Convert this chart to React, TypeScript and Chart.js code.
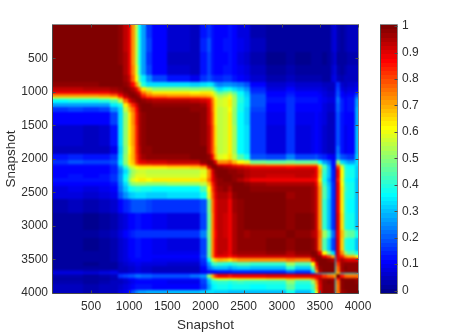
import React, { useEffect, useRef } from "react";
import { Chart, registerables } from "chart.js";

Chart.register(...registerables);

const bandEdges = [0,200,400,600,750,850,920,980,1030,1075,1110,1160,1220,1300,1500,1800,1930,2020,2070,2110,2150,2230,2290,2350,2410,2500,2590,2800,3060,3180,3380,3440,3480,3530,3590,3650,3695,3715,3770,3810,3860,3960,4000];
const axisTicks = [500,1000,1500,2000,2500,3000,3500,4000];
const colorTicks = [0,0.1,0.2,0.3,0.4,0.5,0.6,0.7,0.8,0.9,1];

// upper triangle of the symmetric similarity table, in percent
const upper: number[][] = [
[99,99,99,99,99,98,93,88,72,55,37,27,17,11,7,6,14,17,13,11,11,12,13,11,9,8,4,2,3,2,3,3,3,2,2,7,12,4,3,4,5,5],
[99,99,99,99,98,93,88,72,55,38,28,18,12,7,5,15,19,14,12,12,13,14,12,10,8,5,2,3,2,2,3,3,2,2,7,12,4,3,4,5,5],
[99,99,99,98,94,88,73,56,38,27,17,11,6,5,14,18,13,11,11,12,13,11,9,7,4,1,2,1,2,2,2,1,2,6,11,3,2,3,4,4],
[99,99,99,94,89,74,58,40,28,18,12,7,5,14,18,14,12,12,13,14,12,10,8,5,3,4,3,3,3,3,2,2,7,13,4,3,4,5,5],
[99,99,96,91,78,62,45,35,26,18,13,10,16,20,17,15,15,16,17,14,12,10,7,4,6,4,4,4,4,3,3,8,14,5,4,5,6,6],
[99,98,95,87,72,55,40,34,33,33,32,33,35,33,28,24,25,26,24,22,20,12,7,9,7,7,7,7,6,5,5,10,16,7,6,7,8],
[99,98,95,88,76,64,55,50,50,49,50,50,47,40,34,36,38,34,30,26,15,9,11,9,9,9,9,7,6,6,11,18,9,7,8,10],
[99,98,95,88,74,68,64,63,62,64,63,60,52,45,47,50,44,36,30,17,11,13,11,11,11,10,8,7,7,12,20,11,9,10,14],
[99,98,95,84,76,72,71,70,70,68,65,57,52,54,58,50,38,32,19,12,15,12,12,12,11,9,7,7,13,20,12,10,12,20],
[99,98,92,87,85,84,83,82,80,72,62,56,58,62,52,40,34,20,13,17,13,13,13,12,10,8,8,14,22,14,11,13,24],
[99,98,96,94,94,93,92,88,76,64,57,59,63,53,40,34,20,13,17,13,13,13,12,10,8,8,14,22,15,12,14,27],
[99,99,98,98,97,96,90,78,64,57,58,63,52,39,33,19,12,17,12,12,12,11,9,7,7,13,21,15,12,14,28],
[99,99,99,98,97,91,78,64,56,57,62,51,38,32,18,11,16,11,11,12,11,9,7,7,13,21,15,12,13,29],
[99,99,99,98,92,79,64,56,57,63,51,37,32,17,10,16,10,10,11,10,8,6,6,12,20,14,11,12,29],
[99,99,98,93,80,65,56,57,64,52,37,33,16,9,17,9,10,12,10,7,5,5,11,20,14,10,11,30],
[99,99,93,80,66,56,57,64,52,37,34,16,9,17,9,10,12,10,7,5,5,11,22,14,10,11,31],
[99,97,88,70,58,60,65,56,45,38,20,18,24,18,18,19,17,15,12,10,12,26,20,18,17,32],
[99,98,90,72,72,76,68,62,58,48,46,48,46,46,46,36,28,22,14,11,50,34,30,27,34],
[99,98,90,88,88,84,80,78,74,72,72,72,72,72,55,40,28,14,10,70,50,38,35,33],
[99,98,96,94,93,92,90,89,88,87,88,88,86,66,44,30,14,8,82,58,40,36,32],
[99,99,97,97,96,94,93,93,93,93,93,89,70,42,30,15,6,88,62,42,38,32],
[99,99,98,97,95,93,92,92,93,92,89,68,40,30,15,6,88,62,42,38,32],
[99,98,95,92,89,89,89,89,88,85,65,38,28,15,6,85,60,40,36,30],
[99,99,97,96,95,95,95,94,89,70,42,30,16,6,88,62,42,38,30],
[99,99,98,98,97,97,96,91,72,44,32,17,7,88,64,43,39,30],
[99,99,99,96,98,96,91,72,44,32,17,7,88,64,42,38,30],
[99,99,97,98,96,91,72,42,30,16,6,89,64,41,37,30],
[99,98,99,97,92,72,42,30,16,6,90,65,42,38,31],
[99,98,95,91,76,52,42,22,8,88,68,50,46,38],
[99,98,93,74,44,32,18,8,90,66,42,38,31],
[99,98,88,62,48,34,12,90,72,52,45,38],
[99,97,88,80,70,20,90,84,72,68,60],
[99,99,97,94,30,90,94,92,90,90],
[99,99,99,34,82,96,98,97,97],
[99,99,35,78,96,99,98,98],
[99,38,76,95,98,98,98],
[99,60,34,36,36,34],
[99,85,78,76,75],
[99,98,97,96],
[99,99,98],
[99,99],
[99],
];

const colorLevels = 64;

function jet(v: number): string {
  const i = Math.max(0, Math.min(colorLevels - 1, Math.floor(v * colorLevels)));
  const t = (i + 1) / colorLevels;
  const c = (a: number) => Math.round(255 * Math.max(0, Math.min(1, a)));
  return `rgb(${c(Math.min(4 * t - 1.5, -4 * t + 4.5))},${c(Math.min(4 * t - 0.5, -4 * t + 3.5))},${c(Math.min(4 * t + 0.5, -4 * t + 2.5))})`;
}

type Cell = { x: number; y: number; x0: number; x1: number; y0: number; y1: number; v: number };

const heatCells: Cell[] = [];
for (let r = 0; r < upper.length; r++) {
  for (let c = 0; c < upper.length; c++) {
    const a = Math.min(r, c);
    const b = Math.max(r, c);
    heatCells.push({
      x: (bandEdges[c] + bandEdges[c + 1]) / 2,
      y: (bandEdges[r] + bandEdges[r + 1]) / 2,
      x0: bandEdges[c], x1: bandEdges[c + 1],
      y0: bandEdges[r], y1: bandEdges[r + 1],
      v: upper[a][b - a] / 100,
    });
  }
}

const barMin = -0.009;
const barMax = 1.004;
const barCells: Cell[] = [];
for (let k = 0; k < colorLevels; k++) {
  const y0 = barMin + ((barMax - barMin) * k) / colorLevels;
  const y1 = barMin + ((barMax - barMin) * (k + 1)) / colorLevels;
  barCells.push({ x: 0.5, y: (y0 + y1) / 2, x0: 0, x1: 1, y0, y1, v: (k + 0.5) / colorLevels });
}

const cellPlugin = {
  id: "cells",
  beforeDatasetsDraw(chart: any, _a: any, opts: any) {
    const { ctx, chartArea: ca, scales } = chart;
    const w = Math.ceil(ca.right - ca.left);
    const h = Math.ceil(ca.bottom - ca.top);
    const off = document.createElement("canvas");
    off.width = w;
    off.height = h;
    const o = off.getContext("2d")!;
    for (const cell of chart.data.datasets[0].data as Cell[]) {
      const xa = Math.round(scales.x.getPixelForValue(cell.x0) - ca.left);
      const xb = Math.round(scales.x.getPixelForValue(cell.x1) - ca.left);
      const ya = Math.round(scales.y.getPixelForValue(cell.y0) - ca.top);
      const yb = Math.round(scales.y.getPixelForValue(cell.y1) - ca.top);
      o.fillStyle = jet(cell.v);
      o.fillRect(Math.min(xa, xb), Math.min(ya, yb), Math.abs(xb - xa), Math.abs(yb - ya));
    }
    ctx.save();
    ctx.beginPath();
    ctx.rect(ca.left, ca.top, w, h);
    ctx.clip();
    ctx.drawImage(off, ca.left, ca.top);
    if (opts.blur) {
      ctx.filter = `blur(${opts.blur}px)`;
      ctx.drawImage(off, ca.left, ca.top);
      ctx.filter = "none";
    }
    ctx.restore();
  },
};

const framePlugin = {
  id: "frame",
  afterDatasetsDraw(chart: any, _a: any, opts: any) {
    const { ctx, chartArea: ca, scales } = chart;
    ctx.save();
    ctx.lineWidth = 1;
    const L = Math.round(ca.left) - 0.5;
    const R = Math.round(ca.right) + 0.5;
    const T = Math.round(ca.top) - 0.5;
    const B = Math.round(ca.bottom) + 0.5;
    ctx.strokeStyle = "#8a8a8a";
    ctx.beginPath();
    ctx.moveTo(L, T); ctx.lineTo(R, T); ctx.lineTo(R, B);
    ctx.stroke();
    ctx.strokeStyle = "#4a4a4a";
    ctx.beginPath();
    ctx.moveTo(L, T); ctx.lineTo(L, B); ctx.lineTo(R, B);
    ctx.stroke();
    const len = 3;
    ctx.beginPath();
    if (opts.xTicks) {
      for (const t of scales.x.ticks) {
        const p = Math.round(scales.x.getPixelForValue(t.value)) + 0.5;
        ctx.moveTo(p, B); ctx.lineTo(p, B - len);
        ctx.moveTo(p, T); ctx.lineTo(p, T + len);
      }
    }
    for (const t of scales.y.ticks) {
      const p = Math.round(scales.y.getPixelForValue(t.value)) + 0.5;
      if (opts.xTicks) {
        ctx.moveTo(L, p); ctx.lineTo(L + len, p);
      }
      ctx.moveTo(R, p); ctx.lineTo(R - len, p);
    }
    ctx.stroke();
    ctx.restore();
  },
};

const textColor = "#2e2e2e";
const tickFont = { family: "'Liberation Sans', Arial, sans-serif", size: 12 };
const titleFont = { family: "'Liberation Sans', Arial, sans-serif", size: 13.5 };

const W = 457;
const H = 333;

export default function App() {
  const mainRef = useRef<HTMLCanvasElement>(null);
  const barRef = useRef<HTMLCanvasElement>(null);

  useEffect(() => {
    const main = new Chart(mainRef.current!, {
      type: "scatter",
      data: { datasets: [{ data: heatCells as any, pointRadius: 0, pointHoverRadius: 0 }] },
      plugins: [cellPlugin, framePlugin],
      options: {
        responsive: false,
        animation: false,
        layout: { padding: { left: 0, top: 25, right: W - 358, bottom: 0 } },
        plugins: {
          legend: { display: false },
          tooltip: { enabled: false },
          cells: { blur: 1.3 },
          frame: { xTicks: true },
        } as any,
        scales: {
          x: {
            type: "linear",
            min: 1,
            max: 4000,
            afterBuildTicks: (s: any) => { s.ticks = axisTicks.map((value) => ({ value })); },
            afterFit: (s: any) => { s.height = H - 293; },
            grid: { display: false, drawTicks: false },
            border: { display: false },
            ticks: { color: textColor, font: tickFont, padding: 6, autoSkip: false, maxRotation: 0, callback: (v: any) => String(v) },
            title: { display: true, text: "Snapshot", color: textColor, font: titleFont, padding: { top: 3, bottom: 0 } },
          },
          y: {
            type: "linear",
            reverse: true,
            min: 1,
            max: 4000,
            afterBuildTicks: (s: any) => { s.ticks = axisTicks.map((value) => ({ value })); },
            afterFit: (s: any) => { s.width = 53; },
            grid: { display: false, drawTicks: false },
            border: { display: false },
            ticks: { color: textColor, font: tickFont, padding: 5, autoSkip: false, callback: (v: any) => String(v) },
            title: { display: true, text: "Snapshot", color: textColor, font: titleFont, padding: { top: 3, bottom: 2 } },
          },
        },
      },
    });
    const bar = new Chart(barRef.current!, {
      type: "scatter",
      data: { datasets: [{ data: barCells as any, pointRadius: 0, pointHoverRadius: 0 }] },
      plugins: [cellPlugin, framePlugin],
      options: {
        responsive: false,
        animation: false,
        layout: { padding: { left: 381, top: 25, right: 0, bottom: H - 293 } },
        plugins: {
          legend: { display: false },
          tooltip: { enabled: false },
          cells: { blur: 0 },
          frame: { xTicks: false },
        } as any,
        scales: {
          x: { type: "linear", min: 0, max: 1, display: false },
          y: {
            type: "linear",
            position: "right",
            min: barMin,
            max: barMax,
            afterBuildTicks: (s: any) => { s.ticks = colorTicks.map((value) => ({ value })); },
            afterFit: (s: any) => { s.width = W - 397; },
            grid: { display: false, drawTicks: false },
            border: { display: false },
            ticks: { color: textColor, font: tickFont, padding: 5, autoSkip: false, callback: (v: any) => String(v) },
          },
        },
      },
    });
    return () => {
      main.destroy();
      bar.destroy();
    };
  }, []);

  return (
    <div style={{ position: "absolute", left: 0, top: 0, width: W, height: H, background: "#fff" }}>
      <canvas ref={mainRef} width={W} height={H} style={{ position: "absolute", left: 0, top: 0 }} />
      <canvas ref={barRef} width={W} height={H} style={{ position: "absolute", left: 0, top: 0 }} />
    </div>
  );
}
